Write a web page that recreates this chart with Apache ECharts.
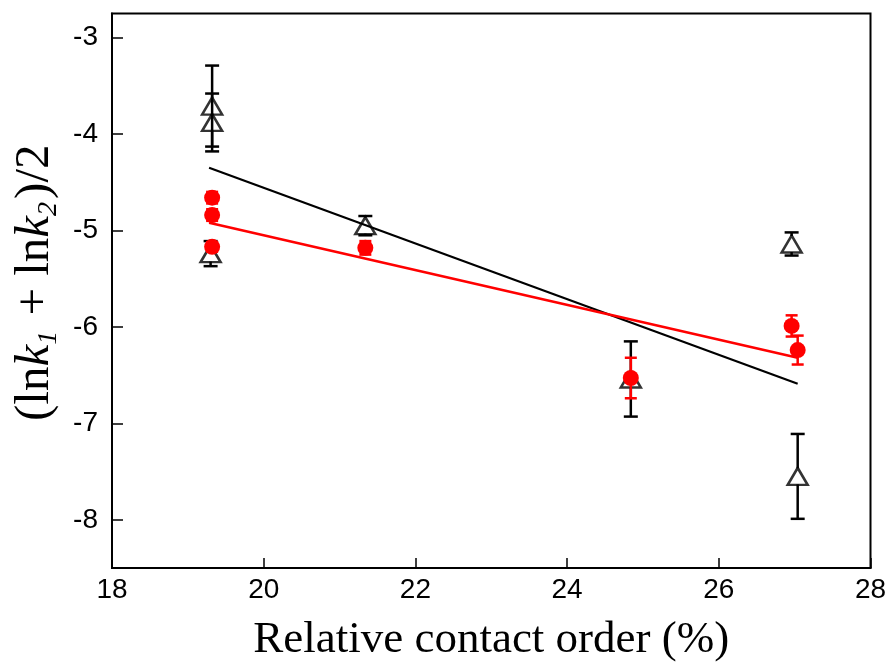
<!DOCTYPE html>
<html>
<head>
<meta charset="utf-8">
<script src="https://cdn.jsdelivr.net/npm/echarts@6/dist/echarts.min.js"></script>
<style>html,body{margin:0;padding:0;background:#fff}#c{width:887px;height:666px}</style>
</head>
<body>
<div id="c"></div>
<script>
// Open triangles (black)
const blackX = [19.32, 19.32, 19.30, 21.34, 24.84, 26.96, 27.04];
const blackY = [-3.71, -3.88, -5.24, -4.95, -6.54, -5.14, -7.55];
const blackErr = [0.42, 0.30, 0.13, 0.10, 0.39, 0.12, 0.44];
// Filled circles (red)
const redX = [19.32, 19.32, 19.32, 21.34, 24.84, 26.96, 27.04];
const redY = [-4.66, -4.84, -5.17, -5.18, -6.53, -5.99, -6.24];
const redErr = [0.06, 0.06, 0.05, 0.07, 0.21, 0.11, 0.15];
// Fitted lines (end points)
const blackFitX = [19.28, 27.04];
const blackFitY = [-4.35, -6.59];
const redFitX = [19.28, 27.04];
const redFitY = [-4.92, -6.32];
// Axis ticks
const xTicks = [18, 20, 22, 24, 26, 28];
const yTicks = [-8, -7, -6, -5, -4, -3];

const zip = (a, b) => a.map((v, i) => [v, b[i]]);
const errData = (xs, ys, es) => xs.map((x, i) => [x, ys[i], es[i]]);

function errRender(color, cap, gap, lw) {
  return function (params, api) {
    const x = api.value(0), y = api.value(1), e = api.value(2);
    const c = api.coord([x, y]);
    const top = api.coord([x, y + e]);
    const bot = api.coord([x, y - e]);
    const style = { stroke: color, lineWidth: lw };
    const ch = [];
    if (c[1] - gap > top[1]) ch.push({ type: 'line', shape: { x1: c[0], y1: c[1] - gap, x2: c[0], y2: top[1] }, style });
    if (c[1] + gap < bot[1]) ch.push({ type: 'line', shape: { x1: c[0], y1: c[1] + gap, x2: c[0], y2: bot[1] }, style });
    ch.push({ type: 'line', shape: { x1: c[0] - cap, y1: top[1], x2: c[0] + cap, y2: top[1] }, style });
    ch.push({ type: 'line', shape: { x1: c[0] - cap, y1: bot[1], x2: c[0] + cap, y2: bot[1] }, style });
    return { type: 'group', children: ch };
  };
}

const chart = echarts.init(document.getElementById('c'), null, { renderer: 'canvas' });
const serif = '"Liberation Serif", "Times New Roman", serif';
const sans = '"Liberation Sans", Arial, sans-serif';

chart.setOption({
  animation: false,
  backgroundColor: '#fff',
  grid: { left: 112, right: 16.5, top: 13.5, bottom: 98, show: true, borderColor: '#000', borderWidth: 2,
          backgroundColor: 'transparent', containLabel: false, outerBoundsMode: 'none' },
  xAxis: {
    type: 'value', min: 18, max: 28, interval: 2,
    axisLine: { show: true, lineStyle: { color: '#000', width: 2 } },
    axisTick: { show: true, inside: true, length: 10, lineStyle: { color: '#000', width: 1.5 }, customValues: xTicks },
    axisLabel: { color: '#000', fontFamily: sans, fontSize: 28, margin: 8, customValues: xTicks },
    splitLine: { show: false },
    name: 'Relative contact order (%)', nameLocation: 'middle', nameGap: 50,
    nameTextStyle: { fontFamily: serif, fontSize: 45, color: '#000' }
  },
  yAxis: {
    type: 'value', min: -8.5, max: -2.75,
    axisLine: { show: true, lineStyle: { color: '#000', width: 2 } },
    axisTick: { show: true, inside: true, length: 11, lineStyle: { color: '#000', width: 1.5 }, customValues: yTicks },
    axisLabel: { color: '#000', fontFamily: sans, fontSize: 28, margin: 14, customValues: yTicks },
    splitLine: { show: false },
    name: '{a|(ln}{i|k}{s|1}{a| + ln}{i|k}{s|2}{a|)/2}', nameLocation: 'middle', nameGap: 38, nameRotate: 90,
    nameTextStyle: {
      color: '#000',
      padding: [0, 0, 0, 16],
      rich: {
        a: { fontFamily: serif, fontSize: 49, color: '#000', lineHeight: 54, verticalAlign: 'middle' },
        i: { fontFamily: serif, fontSize: 49, fontStyle: 'italic', color: '#000', lineHeight: 54, verticalAlign: 'middle' },
        s: { fontFamily: serif, fontSize: 28, fontStyle: 'italic', color: '#000', lineHeight: 54, verticalAlign: 'bottom', padding: [0, 3, 0, 0] }
      }
    }
  },
  series: [
    { type: 'line', data: zip(blackFitX, blackFitY), symbol: 'none', lineStyle: { color: '#000', width: 2.2 }, z: 2 },
    { type: 'line', data: zip(redFitX, redFitY), symbol: 'none', lineStyle: { color: '#ff0000', width: 2.5 }, z: 2 },
    { type: 'custom', data: errData(blackX, blackY, blackErr), renderItem: errRender('#000', 7, 8, 2.5), z: 3, clip: false },
    { type: 'scatter', data: zip(blackX, blackY), symbol: 'triangle', symbolSize: [20, 17],
      itemStyle: { color: 'rgba(0,0,0,0)', borderColor: '#000', borderWidth: 2.5 }, z: 4 },
    { type: 'custom', data: errData(redX, redY, redErr), renderItem: errRender('#ff0000', 6, 0, 2.5), z: 5, clip: false },
    { type: 'scatter', data: zip(redX, redY), symbol: 'circle', symbolSize: 16,
      itemStyle: { color: '#ff0000', opacity: 1 }, z: 6 }
  ]
});
</script>
</body>
</html>
